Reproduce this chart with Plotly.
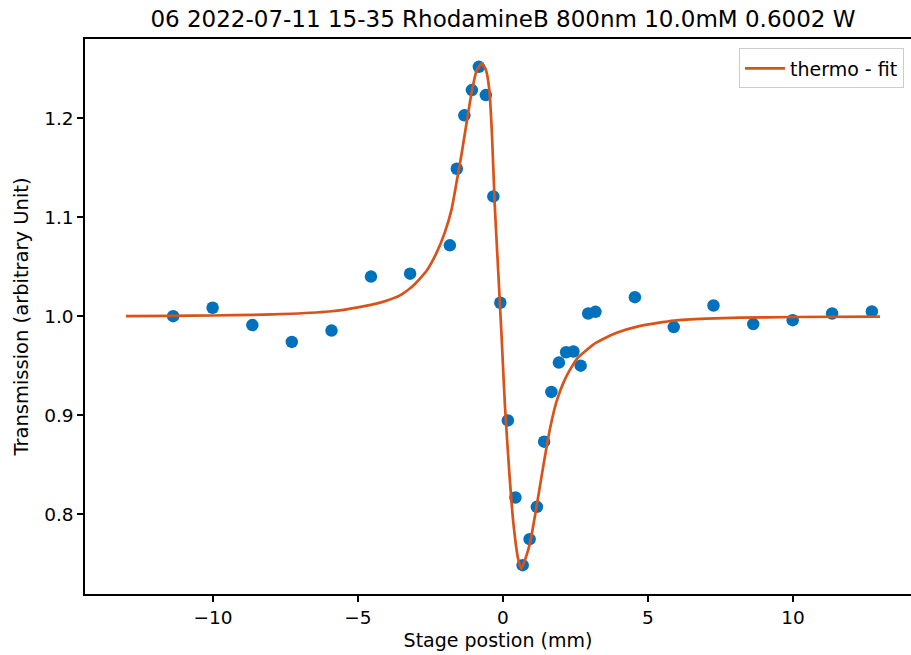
import plotly.graph_objects as go

# Measured data (stage position in mm, normalised transmission)
stage_pos = [-11.37, -10.01, -8.64, -7.28, -5.91, -4.55, -3.20, -1.83,
             -1.59, -1.33, -1.07, -0.83, -0.59, -0.33, -0.09, 0.17,
             0.43, 0.68, 0.92, 1.17, 1.42, 1.67, 1.93, 2.18, 2.43,
             2.68, 2.94, 3.19, 4.55, 5.89, 7.26, 8.63, 9.99, 11.35, 12.72]
transmission = [1.000, 1.0085, 0.991, 0.974, 0.9855, 1.040, 1.043, 1.0716,
                1.149, 1.203, 1.2285, 1.252, 1.2234, 1.121, 1.0136, 0.8947,
                0.8168, 0.7484, 0.7747, 0.8074, 0.8732, 0.9235, 0.9531, 0.9636, 0.9643,
                0.950, 1.0027, 1.0044, 1.0192, 0.989, 1.0108, 0.992, 0.996, 1.0027, 1.0048]

# Fit curve
fit_x = [-13.0, -11.4, -10.0, -8.6, -7.3, -5.9, -5.0, -4.2, -3.55, -3.09,
         -2.63, -2.29, -2.0, -1.77, -1.60, -1.42, -1.25, -1.08, -0.91, -0.73,
         -0.59, -0.47, -0.38, -0.28, -0.16, -0.04, 0.07, 0.22, 0.36, 0.53,
         0.64, 0.80, 0.95, 1.15, 1.40, 1.62, 1.85, 2.15, 2.55, 3.2,
         3.9, 4.7, 5.9, 7.0, 8.2, 10.0, 13.0]
fit_y = [1.000, 1.0003, 1.0007, 1.0014, 1.0025, 1.005, 1.009, 1.014, 1.021, 1.031,
         1.046, 1.064, 1.085, 1.108, 1.135, 1.165, 1.196, 1.226, 1.248, 1.2555,
         1.249, 1.229, 1.185, 1.111, 1.044, 0.976, 0.909, 0.842, 0.791, 0.754,
         0.745, 0.757, 0.773, 0.806, 0.850, 0.886, 0.914, 0.937, 0.957, 0.973,
         0.983, 0.990, 0.9955, 0.9975, 0.9985, 0.9992, 0.9995]

x_ticks = [-10, -5, 0, 5, 10]
x_tick_labels = ["\u221210", "\u22125", "0", "5", "10"]
y_ticks = [0.8, 0.9, 1.0, 1.1, 1.2]
y_tick_labels = ["0.8", "0.9", "1.0", "1.1", "1.2"]

FONT = "DejaVu Sans"

fig = go.Figure()
fig.add_trace(go.Scatter(
    x=stage_pos, y=transmission, mode="markers",
    marker=dict(color="#0072BD", size=12.5, line=dict(width=0)),
    showlegend=False, name="data"))
fig.add_trace(go.Scatter(
    x=fit_x, y=fit_y, mode="lines",
    line=dict(color="#D95319", width=2.7, shape="spline", smoothing=0.5),
    name="thermo - fit"))

fig.update_layout(
    width=911, height=655,
    margin=dict(l=85, r=0, t=39, b=61, autoexpand=False),
    paper_bgcolor="white", plot_bgcolor="white",
    font=dict(family=FONT, size=19, color="black"),
    title=dict(text="06 2022-07-11 15-35 RhodamineB 800nm 10.0mM 0.6002 W",
               x=0.506, xref="paper", xanchor="center",
               y=0.971, yref="container", yanchor="middle",
               font=dict(family=FONT, size=23, color="black")),
    legend=dict(x=0.9915, xanchor="right", y=0.983, yanchor="top",
                bgcolor="white", bordercolor="#cccccc", borderwidth=1,
                itemwidth=40,
                font=dict(family=FONT, size=19, color="black")),
    xaxis=dict(range=[-14.41, 14.07], tickvals=x_ticks, ticktext=x_tick_labels,
               showgrid=False, zeroline=False, showline=True, linecolor="black",
               linewidth=1.5, mirror=True, ticks="outside", ticklen=6,
               tickcolor="black", tickwidth=1.5, automargin=False,
               tickfont=dict(family=FONT, size=18.5),
               title=dict(text="Stage postion (mm)", standoff=7,
                          font=dict(family=FONT, size=19))),
    yaxis=dict(range=[0.7193, 1.2801], tickvals=y_ticks, ticktext=y_tick_labels,
               showgrid=False, zeroline=False, showline=True, linecolor="black",
               linewidth=1.5, mirror=False, ticks="outside", ticklen=6,
               tickcolor="black", tickwidth=1.5, automargin=False,
               tickfont=dict(family=FONT, size=18.5),
               title=dict(text="Transmission (arbitrary Unit)", standoff=10,
                          font=dict(family=FONT, size=19.5))),
)

fig.write_html("out.html", config={"displayModeBar": False},
               post_script="document.body.style.margin='0px';document.body.style.padding='0px';")
